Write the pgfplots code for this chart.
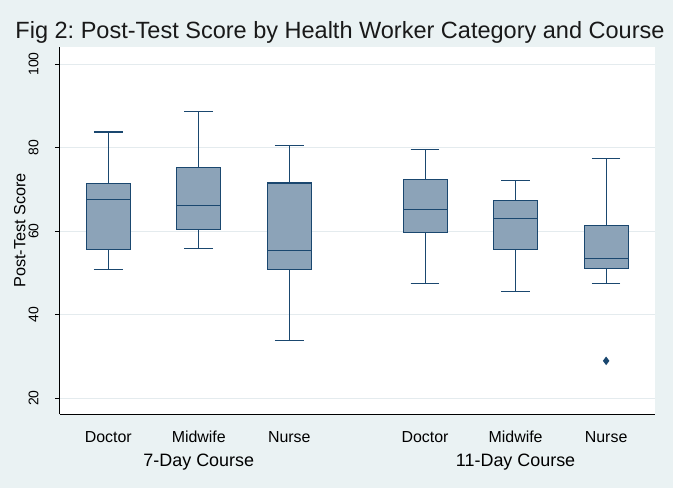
\documentclass[border=0pt]{standalone}
\usepackage{pgfplots}
\pgfplotsset{compat=1.18}
\usepgfplotslibrary{statistics}
\usepackage{fontspec}
\setmainfont{Liberation Sans}
\frenchspacing
\definecolor{bg}{HTML}{EAF2F3}
\definecolor{boxfill}{HTML}{8CA3B8}
\definecolor{navy}{HTML}{1A476F}
\definecolor{gridc}{HTML}{E4EBEE}
\pgfplotsset{mybox/.style={solid, fill=boxfill, draw=navy, line width=1.1bp}}
\begin{document}
\begin{tikzpicture}
\fill[bg] (-60bp,-74bp) rectangle (613bp,414bp);
\useasboundingbox (-60bp,-74bp) rectangle (613bp,414bp);
\node[anchor=base, font=\fontsize{23.6}{23.6}\selectfont, text=black!90] at (280bp,375.7bp) {Fig 2: Post-Test Score by Health Worker Category and Course};
\begin{axis}[
 scale only axis, width=595bp, height=367bp,
 xmin=-0.533, xmax=6.04, ymin=16.17, ymax=104.07,
 axis background/.style={fill=white},
 axis x line*=bottom, axis y line*=left,
 axis line style={black, line width=1bp},
 ytick={20,40,60,80,100},
 ymajorgrids, grid style={gridc, line width=0.8bp},
 y tick style={black, line width=0.8bp}, tick align=outside, major tick length=5bp,
 xtick={0,1,2,3.5,4.5,5.5},
 xticklabels={Doctor,Midwife,Nurse,Doctor,Midwife,Nurse},
 x tick style={draw=none},
 xticklabel style={anchor=base, yshift=-23.3bp, font=\fontsize{16}{16}\selectfont},
 yticklabel style={xshift=-16.2bp, rotate=90, anchor=south, inner sep=0pt, font=\fontsize{14}{14}\selectfont},
 /pgf/number format/assume math mode=true,
 ylabel={Post-Test Score},
 every axis y label/.style={at={(axis description cs:0,0.5)}, xshift=-34.5bp, rotate=90, anchor=base, font=\fontsize{16.3}{16.3}\selectfont},
 clip=false,
 boxplot/box extend=0.486, boxplot/whisker extend=0.317,
 boxplot/draw direction=y,
]
% 7-Day Course
\addplot+[mybox, boxplot prepared={draw position=0, lower whisker=50.8, lower quartile=55.6, median=67.6, upper quartile=71.3, upper whisker=83.7}] coordinates {};
\addplot+[mybox, boxplot prepared={draw position=1, lower whisker=55.8, lower quartile=60.4, median=66.0, upper quartile=75.2, upper whisker=88.6}] coordinates {};
\addplot+[mybox, boxplot prepared={draw position=2, lower whisker=33.8, lower quartile=50.8, median=55.3, upper quartile=71.5, upper whisker=80.5}] coordinates {};
% 11-Day Course
\addplot+[mybox, boxplot prepared={draw position=3.5, lower whisker=47.4, lower quartile=59.6, median=65.1, upper quartile=72.3, upper whisker=79.5}] coordinates {};
\addplot+[mybox, boxplot prepared={draw position=4.5, lower whisker=45.5, lower quartile=55.6, median=63.0, upper quartile=67.2, upper whisker=72.0}] coordinates {};
\addplot+[mybox, mark=diamond*, mark size=3.4bp, mark options={solid, fill=navy, draw=navy}, boxplot prepared={draw position=5.5, lower whisker=47.4, lower quartile=51.0, median=53.4, upper quartile=61.4, upper whisker=77.4}] table[row sep=\\, y index=0] {28.9\\};
\node[anchor=base, font=\fontsize{18}{18}\selectfont, yshift=-52.7bp] at (axis cs:1,16.17) {7-Day Course};
\node[anchor=base, font=\fontsize{18}{18}\selectfont, yshift=-52.7bp] at (axis cs:4.5,16.17) {11-Day Course};
\end{axis}
\end{tikzpicture}
\end{document}
